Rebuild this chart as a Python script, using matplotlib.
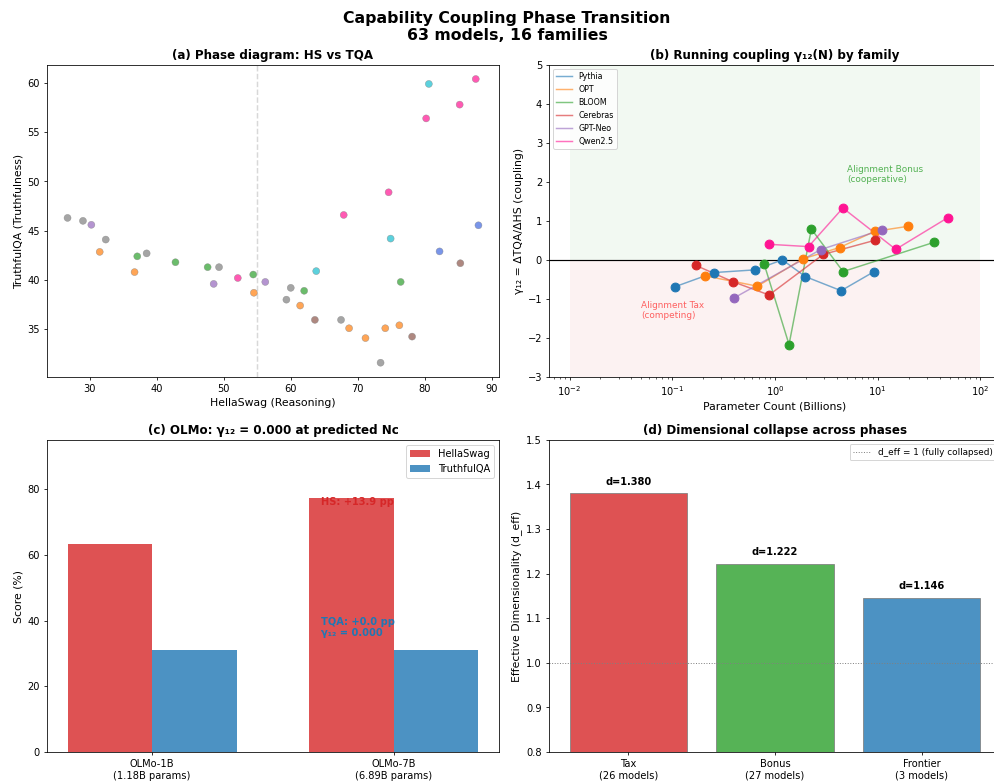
import numpy as np
import matplotlib
matplotlib.use('Agg')
import matplotlib.pyplot as plt

# ---- (a) phase diagram points: HellaSwag vs TruthfulQA, colour group per point
hs = [26.7, 29.0, 30.25, 32.4, 31.5, 37.1, 38.5, 36.7, 42.8, 47.6,
      49.3, 48.5, 52.1, 54.4, 54.5, 56.2, 59.35, 60.0, 62.0, 61.4,
      63.6, 63.8, 67.9, 67.5, 68.7, 71.15, 73.4, 74.1, 74.6, 74.9,
      76.2, 76.4, 78.1, 80.2, 80.6, 82.2, 85.2, 85.3, 87.6, 88.0]
tqa = [46.3, 46.0, 45.6, 44.1, 42.85, 42.4, 42.7, 40.8, 41.8, 41.3,
       41.3, 39.6, 40.2, 40.55, 38.7, 39.8, 38.0, 39.2, 38.9, 37.4,
       35.95, 40.9, 46.6, 35.95, 35.1, 34.1, 31.6, 35.1, 48.9, 44.2,
       35.4, 39.8, 34.25, 56.4, 59.9, 42.9, 57.8, 41.7, 60.4, 45.55]
group = ['gray', 'gray', 'purple', 'gray', 'orange', 'green', 'gray', 'orange', 'green', 'green',
         'gray', 'purple', 'pink', 'green', 'orange', 'purple', 'gray', 'gray', 'green', 'orange',
         'brown', 'cyan', 'pink', 'gray', 'orange', 'orange', 'gray', 'orange', 'pink', 'cyan',
         'orange', 'green', 'brown', 'pink', 'cyan', 'royal', 'pink', 'brown', 'pink', 'royal']
group_colors = {'gray': 'tab:gray', 'purple': 'tab:purple', 'orange': 'tab:orange',
                'green': 'tab:green', 'pink': 'deeppink', 'brown': 'tab:brown',
                'cyan': 'tab:cyan', 'royal': 'royalblue'}

# ---- (b) running coupling per family (N in billions, gamma_12)
families = ['Pythia', 'OPT', 'BLOOM', 'Cerebras', 'GPT-Neo', 'Qwen2.5']
fam_colors = ['tab:blue', 'tab:orange', 'tab:green', 'tab:red', 'tab:purple', 'deeppink']
pythia_n = [0.106, 0.256, 0.64, 1.18, 1.98, 4.40, 9.10]
pythia_g = [-0.69, -0.325, -0.256, 0.0, -0.43, -0.79, -0.31]
opt_n = [0.209, 0.675, 1.87, 4.25, 9.33, 19.7]
opt_g = [-0.41, -0.675, 0.026, 0.316, 0.73, 0.86]
bloom_n = [0.785, 1.37, 2.26, 4.6, 35.3]
bloom_g = [-0.11, -2.17, 0.79, -0.30, 0.45]
cerebras_n = [0.169, 0.389, 0.876, 2.95, 9.33]
cerebras_g = [-0.14, -0.56, -0.90, 0.14, 0.50]
gptneo_n = [0.403, 2.79, 10.95]
gptneo_g = [-0.97, 0.265, 0.77]
qwen_n = [0.866, 2.12, 4.58, 14.97, 48.0]
qwen_g = [0.40, 0.34, 1.33, 0.27, 1.08]
fam_n = [pythia_n, opt_n, bloom_n, cerebras_n, gptneo_n, qwen_n]
fam_g = [pythia_g, opt_g, bloom_g, cerebras_g, gptneo_g, qwen_g]

# ---- (c) OLMo
olmo_labels = ['OLMo-1B\n(1.18B params)', 'OLMo-7B\n(6.89B params)']
olmo_hs = [63.4, 77.3]
olmo_tqa = [31.2, 31.2]

# ---- (d) effective dimensionality per phase
phases = ['Tax\n(26 models)', 'Bonus\n(27 models)', 'Frontier\n(3 models)']
d_eff = [1.380, 1.222, 1.146]
phase_colors = ['tab:red', 'tab:green', 'tab:blue']

W, H = 995, 783
fig = plt.figure(figsize=(14, 11.02), dpi=71.07)


def box(left, top, w=452, h=312):
    return [left / W, 1 - (top + h) / H, w / W, h / H]


ax1 = fig.add_axes(box(47, 65))
ax2 = fig.add_axes(box(549, 65))
ax3 = fig.add_axes(box(47, 440))
ax4 = fig.add_axes(box(549, 440))

fig.suptitle('Capability Coupling Phase Transition\n63 models, 16 families',
             fontsize=16, fontweight='bold', x=507 / W, y=1 - 11 / H, va='top')

# (a)
ax1.scatter(hs, tqa, c=[group_colors[g] for g in group], s=50, alpha=0.7,
            edgecolors='gray', linewidths=0.5, zorder=3)
ax1.axvline(55, color='gray', linestyle='--', alpha=0.3)
ax1.set_xlabel('HellaSwag (Reasoning)', fontsize=11)
ax1.set_ylabel('TruthfulQA (Truthfulness)', fontsize=11)
ax1.set_title('(a) Phase diagram: HS vs TQA', fontsize=12, fontweight='bold')

# (b)
ax2.fill_between([0.01, 100], 0, 5, color='tab:green', alpha=0.06, linewidth=0)
ax2.fill_between([0.01, 100], -3, 0, color='tab:red', alpha=0.06, linewidth=0)
ax2.axhline(0, color='black', linewidth=1.2)
for name, col, n, g in zip(families, fam_colors, fam_n, fam_g):
    ax2.plot(n, g, color=col, alpha=0.6, linewidth=1.5, label=name)
    ax2.scatter(n, g, color=col, s=80, zorder=5)
ax2.set_xscale('log')
ax2.set_ylim(-3, 5)
ax2.text(5, 2.2, 'Alignment Bonus\n(cooperative)', color='tab:green', alpha=0.8,
         fontsize=9, va='center')
ax2.text(0.05, -1.3, 'Alignment Tax\n(competing)', color='red', alpha=0.6,
         fontsize=9, va='center')
ax2.set_xlabel('Parameter Count (Billions)', fontsize=11)
ax2.set_ylabel('γ₁₂ = ΔTQA/ΔHS (coupling)', fontsize=11)
ax2.set_title('(b) Running coupling γ₁₂(N) by family', fontsize=12, fontweight='bold')
ax2.legend(loc='upper left', fontsize=8)

# (c)
x = np.arange(len(olmo_labels))
w = 0.35
ax3.bar(x - w / 2, olmo_hs, w, color='tab:red', alpha=0.8, label='HellaSwag')
ax3.bar(x + w / 2, olmo_tqa, w, color='tab:blue', alpha=0.8, label='TruthfulQA')
ax3.set_xticks(x)
ax3.set_xticklabels(olmo_labels)
ax3.set_ylim(0, 95)
ax3.set_ylabel('Score (%)', fontsize=11)
ax3.set_title('(c) OLMo: γ₁₂ = 0.000 at predicted Nc', fontsize=12, fontweight='bold')
dhs = olmo_hs[1] - olmo_hs[0]
dtqa = olmo_tqa[1] - olmo_tqa[0]
ax3.text(0.70, olmo_hs[1] - 1, f'HS: +{dhs:.1f} pp', color='tab:red',
         fontsize=10, fontweight='bold', va='center')
ax3.text(0.70, 38, f'TQA: +{dtqa:.1f} pp\nγ₁₂ = {dtqa / dhs:.3f}', color='tab:blue',
         fontsize=10, fontweight='bold', va='center')
ax3.legend(loc='upper right', fontsize=10)

# (d)
xd = np.arange(len(phases))
ax4.bar(xd, d_eff, 0.8, color=phase_colors, alpha=0.8, edgecolor='gray')
for xi, v in zip(xd, d_eff):
    ax4.text(xi, v + 0.015, f'd={v:.3f}', ha='center', va='bottom',
             fontsize=10, fontweight='bold')
ax4.axhline(1.0, color='gray', linestyle=':', linewidth=1, label='d_eff = 1 (fully collapsed)')
ax4.set_xticks(xd)
ax4.set_xticklabels(phases)
ax4.set_ylim(0.8, 1.5)
ax4.set_ylabel('Effective Dimensionality (d_eff)', fontsize=11)
ax4.set_title('(d) Dimensional collapse across phases', fontsize=12, fontweight='bold')
ax4.legend(loc='upper right', fontsize=9)

fig.savefig('out.png', dpi=71.07)
